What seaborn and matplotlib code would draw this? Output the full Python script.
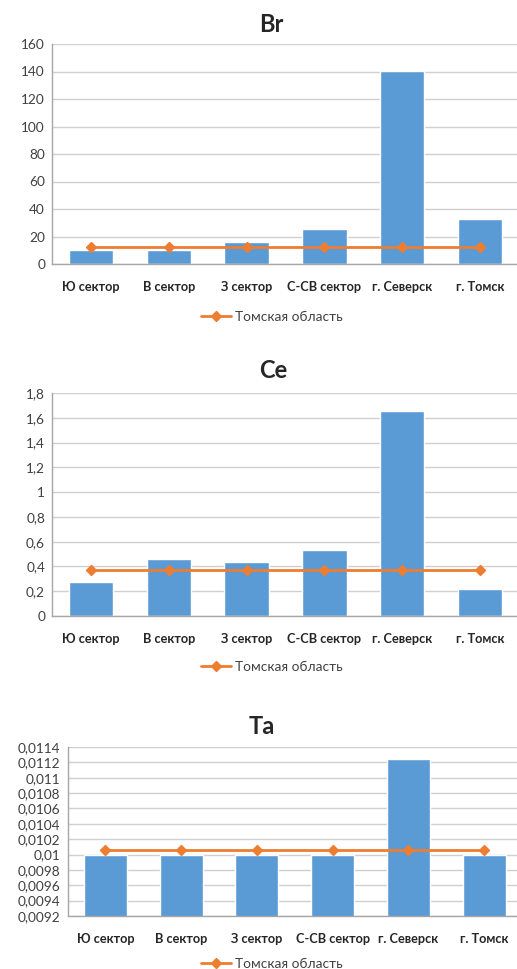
import numpy as np
import pandas as pd
import matplotlib
matplotlib.use("Agg")
import matplotlib.pyplot as plt
from matplotlib.ticker import FuncFormatter, MultipleLocator
from matplotlib.lines import Line2D
import seaborn as sns

# data
categories = ["Ю сектор", "В сектор", "З сектор", "С-СВ сектор", "г. Северск", "г. Томск"]
br_values = [10.1, 10.1, 16.3, 25.3, 140.3, 32.5]
br_region = [12.6] * 6
ce_values = [0.278, 0.459, 0.432, 0.532, 1.651, 0.219]
ce_region = [0.373] * 6
ta_values = [0.01, 0.01, 0.01, 0.01, 0.01125, 0.01]
ta_region = [0.01006] * 6
legend_label = "Томская область"

BAR = "#5B9BD5"
LINE = "#ED7D31"
GRID = "#D0D0D0"
FONT = ["Lato", "DejaVu Sans"]

sns.set_theme(style="white")
plt.rcParams["font.family"] = FONT

W, H = 517, 969
fig = plt.figure(figsize=(W / 100, H / 100), dpi=100)


def comma_fmt(v, pos):
    s = f"{round(v, 6):g}"
    return s.replace(".", ",")


def draw(rect, title, title_xy, values, region, ylim, step, legend_y):
    left, top, right, bottom = rect
    ax = fig.add_axes([left / W, 1 - bottom / H, (right - left) / W, (bottom - top) / H])
    df = pd.DataFrame({"cat": categories, "val": values, "reg": region})
    sns.barplot(data=df, x="cat", y="val", color=BAR, width=0.57, saturation=1, ax=ax, zorder=2)
    ax.plot(df["cat"], df["reg"], color=LINE, lw=2, marker="D", ms=5, zorder=3)
    ax.set_ylim(*ylim)
    ax.set_xlim(-0.5, 5.5)
    ax.yaxis.set_major_locator(MultipleLocator(step))
    ax.yaxis.set_major_formatter(FuncFormatter(comma_fmt))
    ax.grid(axis="y", color=GRID, lw=1, zorder=0)
    ax.set_axisbelow(True)
    ax.set_xlabel("")
    ax.set_ylabel("")
    for s in ["top", "right"]:
        ax.spines[s].set_visible(False)
    for s in ["left", "bottom"]:
        ax.spines[s].set_color("#A6A6A6")
        ax.spines[s].set_linewidth(1)
    ax.tick_params(axis="y", length=0, labelsize=9.8, pad=5, labelcolor="#404040")
    ax.tick_params(axis="x", length=0, labelsize=9.2, pad=12)
    for t in ax.get_xticklabels():
        t.set_fontweight("bold")
    fig.text(title_xy[0] / W, 1 - title_xy[1] / H, title, ha="center", va="center",
             fontsize=17, fontweight="bold")
    handle = Line2D([], [], color=LINE, lw=2, marker="D", ms=5)
    fig.legend([handle], [legend_label], loc="center", bbox_to_anchor=(272 / W, 1 - legend_y / H),
               frameon=False, fontsize=9.8, handlelength=2.2, handletextpad=0.3,
               labelcolor="#404040")
    return ax


draw((52, 44, 519, 264), "Br", (271, 25), br_values, br_region, (0, 160), 20, 317)
draw((52, 393, 519, 616), "Ce", (273, 370), ce_values, ce_region, (0, 1.8), 0.2, 667)
draw((67.5, 747, 522, 916), "Ta", (262, 726), ta_values, ta_region, (0.0092, 0.0114), 0.0002, 964)

fig.savefig("out.png", dpi=100)
